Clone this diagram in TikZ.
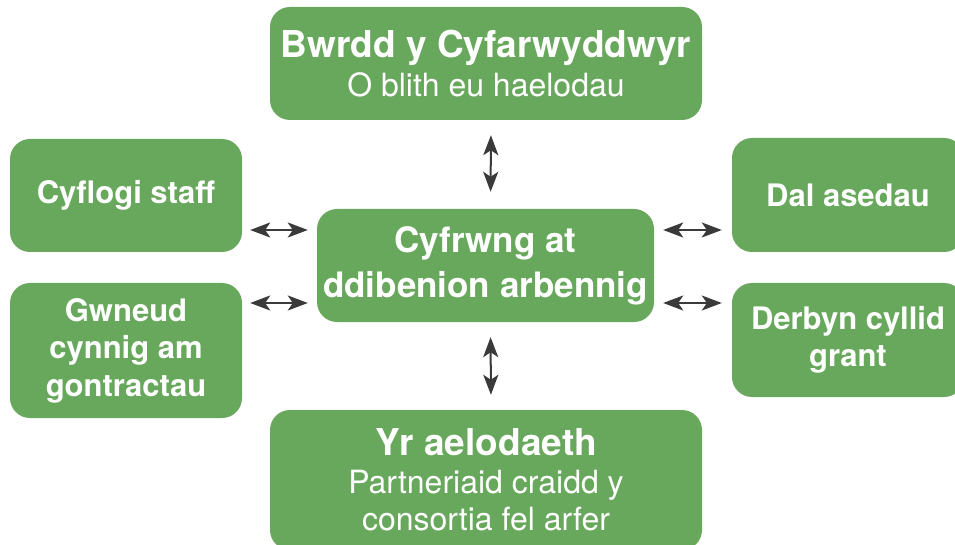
\documentclass[tikz,border=0pt]{standalone}
\usepackage{fontspec}
\setmainfont{TeX Gyre Heros}
\usetikzlibrary{arrows.meta}
\definecolor{boxgreen}{RGB}{104,168,92}
\definecolor{arrowgrey}{RGB}{58,58,58}

\begin{document}
\begin{tikzpicture}[x=1pt,y=1pt,
    box/.style={fill=boxgreen, text=white, rounded corners=20pt, align=center, inner sep=0pt},
    side/.style={box, minimum width=232pt, font=\fontsize{31}{37.5}\selectfont\bfseries},
    main/.style={box, minimum width=432pt, font=\fontsize{32}{37}\selectfont},
    link/.style={draw=arrowgrey, line width=2pt, {Stealth[length=20pt,width=15pt,inset=5pt]}-{Stealth[length=20pt,width=15pt,inset=5pt]}}]
    \useasboundingbox (0,0) rectangle (955,544);
    % top and bottom
    \node[main, minimum height=113pt] (board) at (486,480.5)
        {{\fontsize{37}{42}\selectfont\bfseries Bwrdd y Cyfarwyddwyr}\\[2pt] O blith eu haelodau};
    \node[main, minimum height=140pt] (members) at (486,64)
        {{\fontsize{37}{42}\selectfont\bfseries Yr aelodaeth}\\[1pt] Partneriaid craidd y\\ consortia fel arfer};
    % centre
    \node[box, minimum width=337pt, minimum height=113pt, font=\fontsize{35}{45}\selectfont\bfseries] (spv) at (485.5,278.5)
        {Cyfrwng at\\ ddibenion arbennig};
    % sides
    \node[side, minimum height=113pt] (staff) at (126,348.5) {Cyflogi staff};
    \node[side, minimum height=135pt] (bids) at (126,193.5) {Gwneud\\ cynnig am\\ gontractau};
    \node[side, minimum height=114pt] (assets) at (848,349) {Dal asedau};
    \node[side, minimum height=114pt] (grant) at (848,204) {Derbyn cyllid\\ grant};
    % arrows
    \draw[link, shorten <=15pt, shorten >=17pt] ([xshift=5pt]board.south) -- ([xshift=5pt]spv.north);
    \draw[link, shorten <=15pt, shorten >=15pt] ([xshift=5pt]spv.south) -- ([xshift=5pt]members.north);
    \draw[link, shorten <=9pt, shorten >=8pt] ([yshift=35.5pt]spv.west) -- ([yshift=35.5pt]spv.west -| staff.east);
    \draw[link, shorten <=9pt, shorten >=8pt] ([yshift=-37.5pt]spv.west) -- ([yshift=-37.5pt]spv.west -| bids.east);
    \draw[link, shorten <=9pt, shorten >=10pt] ([yshift=35.5pt]spv.east) -- ([yshift=35.5pt]spv.east -| assets.west);
    \draw[link, shorten <=9pt, shorten >=10pt] ([yshift=-37.5pt]spv.east) -- ([yshift=-37.5pt]spv.east -| grant.west);
\end{tikzpicture}
\end{document}
